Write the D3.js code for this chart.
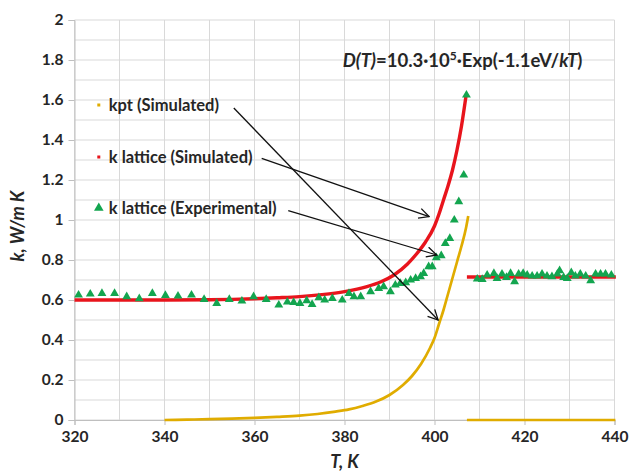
<!DOCTYPE html>
<html><head><meta charset="utf-8">
<script src="https://cdn.jsdelivr.net/npm/d3@7"></script>
<style>body{margin:0;background:#fff}svg{display:block}</style>
</head><body>
<svg id="c" width="629" height="472"></svg>
<script>
// ---- data ----
const xTicks = [320, 340, 360, 380, 400, 420, 440];
const yTicks = [0, 0.2, 0.4, 0.6, 0.8, 1, 1.2, 1.4, 1.6, 1.8, 2];
const yTickLabels = ["0", "0.2", "0.4", "0.6", "0.8", "1", "1.2", "1.4", "1.6", "1.8", "2"];

// k lattice (Simulated) - below transition
const kLatSimLow = [[320,0.6],[330,0.6],[340,0.6],[350,0.601],[355,0.603],[360,0.606],[365,0.611],[370,0.617],[375,0.627],[380,0.642],[385,0.667],[388,0.69],[391,0.725],[394,0.78],[396,0.83],[398,0.89],[400,0.97],[401,1.03],[402,1.1],[403,1.17],[404,1.25],[405,1.35],[406,1.47],[407,1.62]];
// k lattice (Simulated) - above transition
const kLatSimHigh = [[407.2,0.715],[440.3,0.715]];
// kpt (Simulated)
const kptLow = [[340,0],[345,0.002],[350,0.004],[355,0.007],[360,0.011],[365,0.016],[370,0.022],[374,0.03],[378,0.042],[381,0.053],[384,0.07],[387,0.092],[390,0.125],[393,0.175],[395,0.22],[397,0.28],[399,0.36],[400,0.41],[401,0.48],[402,0.55],[403,0.63],[404,0.71],[405,0.79],[406,0.87],[407,0.96],[407.5,1.02]];
const kptHigh = [[407.2,0],[440.2,0]];
// k lattice (Experimental)
const kLatExp = [[320.9,0.625],[323.5,0.63],[326.1,0.633],[328.9,0.633],[331.6,0.617],[334.4,0.607],[337.3,0.633],[340.2,0.623],[343.0,0.62],[346.0,0.625],[348.8,0.603],[351.6,0.583],[354.4,0.603],[357.2,0.595],[359.8,0.617],[362.6,0.603],[365.4,0.575],[367.3,0.59],[368.7,0.588],[370.1,0.583],[371.6,0.597],[372.8,0.578],[374.3,0.612],[375.6,0.6],[377.3,0.608],[379.5,0.6],[381.0,0.633],[382.1,0.617],[383.6,0.617],[385.8,0.642],[387.6,0.658],[388.7,0.667],[390.2,0.642],[391.3,0.675],[392.4,0.683],[393.6,0.687],[394.7,0.7],[395.8,0.708],[396.9,0.717],[397.6,0.733],[398.7,0.767],[399.5,0.767],[400.4,0.812],[401.5,0.822],[402.4,0.883],[403.4,0.908],[404.4,1.0],[405.4,1.092],[406.5,1.225],[407.1,1.625],
[409.5,0.705],[410.6,0.703],[411.7,0.725],[413.2,0.733],[413.9,0.708],[415.0,0.73],[416.0,0.713],[416.9,0.733],[417.8,0.692],[418.7,0.73],[419.7,0.733],[420.6,0.725],[421.7,0.72],[422.8,0.72],[423.9,0.73],[425.0,0.72],[426.1,0.717],[427.3,0.73],[427.8,0.747],[428.7,0.713],[429.5,0.708],[430.4,0.737],[431.3,0.72],[432.4,0.73],[433.6,0.72],[434.7,0.697],[435.8,0.73],[436.9,0.73],[438.0,0.73],[439.3,0.725]];

const legendItems = ["kpt (Simulated)", "k lattice (Simulated)", "k lattice (Experimental)"];
const legendPos = [[325.4,1.575],[325.4,1.315],[325.4,1.06]];
// arrows: [fromT, fromK, toT, toK]
const arrows = [[355.4,1.56,400.8,0.5],[361.6,1.308,398.8,1.017],[367.5,1.047,400.5,0.825]];

// ---- styles ----
const RED = "#e8141c", GOLD = "#e0ac00", GREEN = "#13a54f", TXT = "#262626", GRID = "#d9d9d9";
const FONT = "Lato, 'Open Sans', sans-serif";

const svg = d3.select("#c");
const x = d3.scaleLinear().domain([320, 440]).range([74.5, 614.5]);
const y = d3.scaleLinear().domain([0, 2]).range([420, 20]);

// grid
const g = svg.append("g");
g.selectAll(".vg").data(d3.range(320, 441, 10)).enter().append("line")
  .attr("x1", d => x(d)).attr("x2", d => x(d)).attr("y1", y(0)).attr("y2", y(2))
  .attr("stroke", GRID).attr("stroke-width", 1);
g.selectAll(".hg").data(d3.range(0, 21).map(i => i / 10)).enter().append("line")
  .attr("x1", x(320)).attr("x2", x(440)).attr("y1", d => y(d)).attr("y2", d => y(d))
  .attr("stroke", GRID).attr("stroke-width", 1);

// axes
const yAxis = d3.axisLeft(y).tickValues(yTicks).tickSize(6).tickPadding(5)
  .tickFormat((d, i) => yTickLabels[i]);
const ya = svg.append("g").attr("transform", `translate(${x(320)},0)`).call(yAxis);
const xAxis = d3.axisBottom(x).tickValues(xTicks).tickSize(5).tickPadding(6).tickFormat(d3.format("d"));
const xa = svg.append("g").attr("transform", `translate(0,${y(0)})`).call(xAxis);
[ya, xa].forEach(a => {
  a.select(".domain").attr("stroke", "#bfbfbf");
  a.selectAll(".tick line").attr("stroke", "#bfbfbf");
  a.selectAll(".tick text").attr("fill", TXT).style("font-family", FONT)
    .style("font-size", "15.5px").style("font-weight", "700");
});

// lines
const line = d3.line().x(d => x(d[0])).y(d => y(d[1])).curve(d3.curveMonotoneX);
[[kLatSimLow, RED, 3.4], [kLatSimHigh, RED, 3.4], [kptLow, GOLD, 2.7], [kptHigh, GOLD, 2.7]].forEach(([data, col, w]) => {
  svg.append("path").datum(data).attr("d", line).attr("fill", "none")
    .attr("stroke", col).attr("stroke-width", w).attr("stroke-linecap", "butt");
});

// experimental triangles
const tri = d3.symbol().type(d3.symbolTriangle).size(34);
svg.append("g").selectAll("path").data(kLatExp).enter().append("path")
  .attr("d", tri).attr("transform", d => `translate(${x(d[0])},${y(d[1])})`)
  .attr("fill", GREEN);

// arrows
svg.append("defs").append("marker").attr("id", "ah").attr("viewBox", "0 0 12 12")
  .attr("refX", 11).attr("refY", 6).attr("markerWidth", 12).attr("markerHeight", 12)
  .attr("markerUnits", "userSpaceOnUse").attr("orient", "auto")
  .append("path").attr("d", "M1,1 L11,6 L1,11").attr("fill", "none").attr("stroke", "#111").attr("stroke-width", 1.3);
svg.append("g").selectAll("line").data(arrows).enter().append("line")
  .attr("x1", d => x(d[0])).attr("y1", d => y(d[1])).attr("x2", d => x(d[2])).attr("y2", d => y(d[3]))
  .attr("stroke", "#111").attr("stroke-width", 1.3).attr("marker-end", "url(#ah)");

// legend-like labels
const lg = svg.append("g");
legendItems.forEach((t, i) => {
  const px = x(legendPos[i][0]), py = y(legendPos[i][1]);
  if (i === 0) lg.append("rect").attr("x", px - 1.5).attr("y", py - 1.5).attr("width", 3).attr("height", 3).attr("fill", GOLD);
  if (i === 1) lg.append("rect").attr("x", px - 1.5).attr("y", py - 1.5).attr("width", 3).attr("height", 3).attr("fill", RED);
  if (i === 2) lg.append("path").attr("d", d3.symbol().type(d3.symbolTriangle).size(40)).attr("transform", `translate(${px},${py})`).attr("fill", GREEN);
  lg.append("text").attr("x", px + 10).attr("y", py).attr("dy", "0.35em").text(t)
    .attr("fill", TXT).style("font-family", FONT).style("font-size", "16.5px").style("font-weight", "700");
});

// equation
const eq = svg.append("text").attr("x", x(379.6)).attr("y", y(1.765)).attr("fill", TXT)
  .style("font-family", FONT).style("font-size", "18.5px").style("font-weight", "700");
eq.append("tspan").style("font-style", "italic").text("D(T)");
eq.append("tspan").text("=10.3·10");
eq.append("tspan").attr("dy", -7).style("font-size", "12px").text("5");
eq.append("tspan").attr("dy", 7).text("·Exp(-1.1eV/");
eq.append("tspan").style("font-style", "italic").text("kT");
eq.append("tspan").text(")");

// axis titles
svg.append("text").attr("transform", `translate(24,${(y(0) + y(2)) / 2 + 6}) rotate(-90)`)
  .attr("text-anchor", "middle").attr("fill", TXT).style("font-family", FONT)
  .style("font-size", "18px").style("font-weight", "700").style("font-style", "italic").text("k, W/m K");
svg.append("text").attr("x", x(380)).attr("y", 468).attr("text-anchor", "middle").attr("fill", TXT)
  .style("font-family", FONT).style("font-size", "18px").style("font-weight", "700").style("font-style", "italic").text("T, K");
</script>
</body></html>
